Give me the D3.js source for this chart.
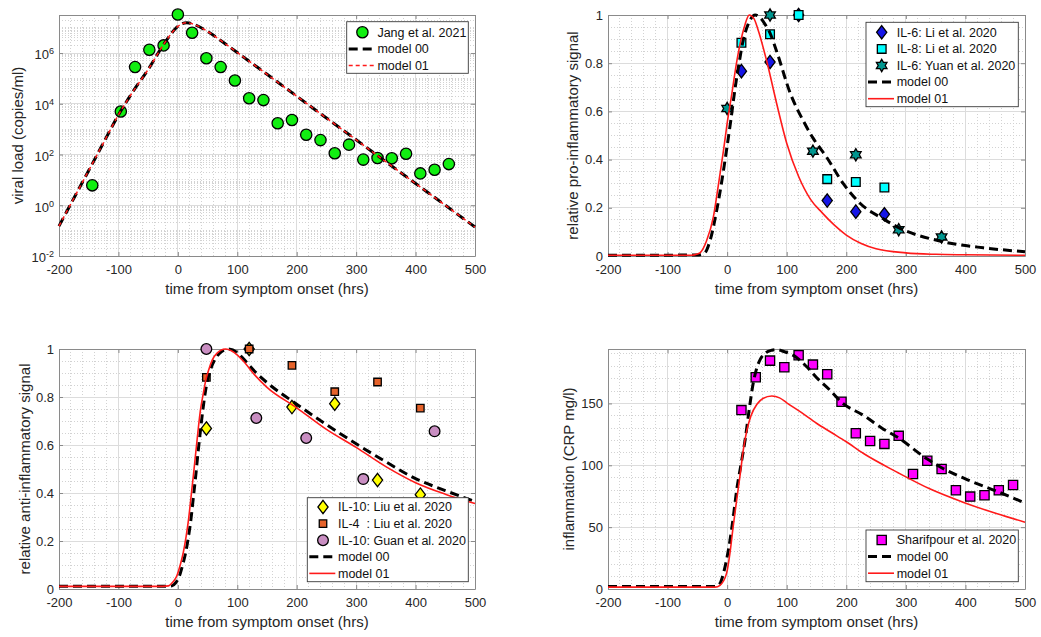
<!DOCTYPE html>
<html>
<head>
<meta charset="utf-8">
<script src="https://cdn.jsdelivr.net/npm/d3@7"></script>
<style>
  body { margin: 0; background: #fff; }
  svg text { font-family: "Liberation Sans", Arial, sans-serif; }
</style>
</head>
<body>
<svg id="fig" width="1041" height="637"></svg>
<script>
// ---------- values ----------

// tick labels
const hourTicks = [-200, -100, 0, 100, 200, 300, 400, 500];
const logTicks = [1e-2, 1, 1e2, 1e4, 1e6];
const fracTicks = [0, 0.2, 0.4, 0.6, 0.8, 1];
const crpTicks = [0, 50, 100, 150];

// A: viral load
const jangHrs = [-144, -96, -72, -48, -24, 0, 24, 48, 72, 96, 120, 144, 168, 192, 216, 240, 264, 288, 312, 336, 360, 384, 408, 432, 456];
const jangLoad = [6.1, 5000, 2.8e5, 1.35e6, 2.0e6, 3.3e7, 6.3e6, 6.2e5, 2.8e5, 8.3e4, 1.65e4, 1.4e4, 1700, 2300, 600, 370, 112, 245, 63, 73, 71, 108, 18, 25, 42];
const viralHrs = [-200, -175, -150, -125, -100, -75, -50, -25, -10, 0, 15, 30, 50, 75, 100, 150, 200, 250, 300, 350, 400, 450, 500];
const viral00 = [0.151, 1.9, 23.4, 295, 3630, 31600, 2.24e5, 2.0e6, 6.3e6, 1.12e7, 1.58e7, 1.26e7, 7.1e6, 2.8e6, 1.05e6, 1.45e5, 2.0e4, 2750, 380, 52, 7.2, 1.0, 0.138];
const viral01 = [0.151, 1.9, 23.4, 295, 3630, 31600, 2.24e5, 2.0e6, 6.3e6, 1.12e7, 1.58e7, 1.26e7, 7.1e6, 2.8e6, 1.05e6, 1.45e5, 2.0e4, 2750, 380, 52, 7.2, 1.0, 0.138];

// B: pro-inflammatory signal
const liHrs = [24, 72, 120, 168, 216, 264];
const il6Li = [0.767, 0.805, 1.0, 0.23, 0.184, 0.173];
const il8Li = [0.885, 0.92, 1.0, 0.319, 0.307, 0.284];
const yuanHrs = [0, 72, 144, 216, 288, 360];
const il6Yuan = [0.612, 1.0, 0.435, 0.42, 0.109, 0.079];
const proHrs00 = [-200, -50, -40, -37, -28, -17.5, -9, -1, 6, 13, 20, 27, 35, 47, 55, 64, 72, 83, 106, 128, 144, 167, 195, 223, 265, 288, 363, 430, 500];
const pro00 = [0.003, 0.004, 0.01, 0.014, 0.07, 0.19, 0.31, 0.44, 0.56, 0.69, 0.8, 0.896, 0.96, 1.0, 0.99, 0.96, 0.925, 0.85, 0.675, 0.56, 0.49, 0.41, 0.30, 0.219, 0.15, 0.118, 0.059, 0.034, 0.018];
const proHrs01 = [-200, -60, -50, -45, -35, -23, -15, -6, 0, 8, 15, 22, 30, 37, 45, 52, 66, 83, 100, 120, 140, 160, 180, 200, 225, 250, 300, 350, 400, 500];
const pro01 = [0.003, 0.003, 0.008, 0.014, 0.06, 0.163, 0.29, 0.44, 0.55, 0.675, 0.79, 0.883, 0.96, 1.0, 0.985, 0.938, 0.813, 0.634, 0.468, 0.33, 0.235, 0.178, 0.128, 0.087, 0.052, 0.03, 0.013, 0.007, 0.005, 0.003];

// C: anti-inflammatory signal
const liuHrs = [48, 120, 192, 264, 336, 408];
const il10Liu = [0.669, 1.0, 0.758, 0.772, 0.454, 0.393];
const il4Liu = [0.882, 1.0, 0.932, 0.822, 0.8625, 0.754];
const guanHrs = [48, 132, 216, 312, 432];
const il10Guan = [1.0, 0.7125, 0.629, 0.458, 0.657];
const antiHrs00 = [-200, -20, -10, -4, 2, 8, 13, 18, 22, 26, 30, 34, 38, 42, 46, 50, 55, 62, 70, 85, 100, 110, 130, 150, 200, 250, 300, 350, 400, 450, 500];
const anti00 = [0.011, 0.011, 0.013, 0.025, 0.05, 0.1, 0.15, 0.22, 0.29, 0.38, 0.47, 0.57, 0.66, 0.745, 0.817, 0.87, 0.914, 0.955, 0.982, 1.0, 0.985, 0.96, 0.905, 0.86, 0.77, 0.685, 0.605, 0.53, 0.46, 0.41, 0.365];
const antiHrs01 = [-200, -25, -16, -8, -2, 4, 9, 14, 18, 22, 26, 30, 34, 38, 43, 47, 52, 58, 66, 80, 95, 110, 130, 150, 200, 250, 300, 350, 400, 450, 500];
const anti01 = [0.011, 0.011, 0.013, 0.03, 0.053, 0.1, 0.15, 0.22, 0.29, 0.38, 0.47, 0.565, 0.66, 0.745, 0.817, 0.87, 0.914, 0.955, 0.983, 1.0, 0.985, 0.95, 0.89, 0.84, 0.755, 0.665, 0.59, 0.51, 0.443, 0.395, 0.356];

// D: inflammation (CRP)
const crpHrs = [24, 48, 72, 96, 120, 144, 168, 192, 216, 240, 264, 288, 312, 336, 360, 384, 408, 432, 456, 480];
const crpSharifpour = [144.6, 171.2, 184.6, 179.2, 188.9, 181.4, 173.6, 151.4, 125.9, 119.7, 117.3, 123.8, 93.0, 103.7, 97.0, 79.8, 74.7, 75.8, 79.8, 84.1];
const crpHrs00 = [-200, -20, -12, -6, 0, 5, 10, 16, 23, 30, 37, 44, 50, 56, 65, 75, 83, 95, 117, 135, 150, 172, 192, 230, 260, 288, 336, 360, 400, 450, 500];
const crp00 = [2.1, 2.1, 4.6, 13, 26, 40, 57, 80, 100, 120, 145, 167, 179, 186, 191, 193, 193.5, 192, 187, 179, 171, 161, 151, 140, 130, 122, 105, 98, 89, 79.5, 69.5];
const crpHrs01 = [-200, -20, -12, -1, 5, 10, 16, 22, 27, 33, 40, 50, 60, 75, 88, 100, 125, 150, 175, 200, 229, 285, 340, 396, 452, 500];
const crp01 = [1.5, 1.5, 3, 12.6, 30, 50, 72, 93, 112, 128, 140, 149.3, 154, 156, 154.5, 150.5, 142.5, 134, 126.5, 119, 109.5, 94.5, 81, 70.2, 61, 54];

// ---------- drawing ----------
const svg = d3.select("#fig");
const ink = "#262626";
const boxCol = "#8a8a8a";

// MATLAB-like marker shapes as d3 symbol types
const tallDiamond = {
  draw(ctx, size) {
    const h = Math.sqrt(size) / 2, w = h * 0.76;
    ctx.moveTo(0, -h); ctx.lineTo(w, 0); ctx.lineTo(0, h); ctx.lineTo(-w, 0); ctx.closePath();
  }
};
const hexagram = {
  draw(ctx, size) {
    const R = Math.sqrt(size) / 2, r = R / Math.sqrt(3);
    for (let i = 0; i < 12; i++) {
      const a = -Math.PI / 2 + i * Math.PI / 6;
      const rad = i % 2 === 0 ? R : r;
      if (i === 0) ctx.moveTo(rad * Math.cos(a), rad * Math.sin(a));
      else ctx.lineTo(rad * Math.cos(a), rad * Math.sin(a));
    }
    ctx.closePath();
  }
};

const dash00 = "9,5";
const lineStyle00 = { stroke: "#000", width: 3, dash: dash00 };

function drawPanel(p) {
  const x = d3.scaleLinear().domain([-200, 500]).range([p.x0, p.x1]);
  const y = (p.log ? d3.scaleLog() : d3.scaleLinear()).domain(p.yDomain).range([p.y1, p.y0]);
  const g = svg.append("g");

  // grid
  const minorX = d3.range(-200, 501, 20).filter(v => !hourTicks.includes(v));
  const grid = g.append("g").attr("shape-rendering", "crispEdges");
  grid.selectAll(".mx").data(minorX).join("line")
    .attr("x1", d => x(d)).attr("x2", d => x(d)).attr("y1", p.y0).attr("y2", p.y1)
    .attr("stroke", "#d2d2d2").attr("stroke-dasharray", "1,2");
  grid.selectAll(".my").data(p.minorY).join("line")
    .attr("y1", d => y(d)).attr("y2", d => y(d)).attr("x1", p.x0).attr("x2", p.x1)
    .attr("stroke", "#d2d2d2").attr("stroke-dasharray", "1,2");
  grid.selectAll(".gx").data(hourTicks).join("line")
    .attr("x1", d => x(d)).attr("x2", d => x(d)).attr("y1", p.y0).attr("y2", p.y1)
    .attr("stroke", "#dcdcdc");
  grid.selectAll(".gy").data(p.yTicks).join("line")
    .attr("y1", d => y(d)).attr("y2", d => y(d)).attr("x1", p.x0).attr("x2", p.x1)
    .attr("stroke", "#dcdcdc");

  // axes (ticks point inward, box on)
  const styleAxis = a => {
    a.select(".domain").attr("stroke", boxCol);
    a.selectAll(".tick line").attr("stroke", boxCol);
    a.selectAll("text").attr("fill", ink).attr("font-size", 13)
      .attr("font-family", '"Liberation Sans", Arial, sans-serif');
  };
  g.append("g").attr("transform", `translate(0,${p.y1})`)
    .call(d3.axisBottom(x).tickValues(hourTicks).tickSize(-4).tickSizeOuter(0).tickPadding(9)
      .tickFormat(d => String(d)))
    .call(styleAxis);
  g.append("g").attr("transform", `translate(0,${p.y0})`)
    .call(d3.axisTop(x).tickValues(hourTicks).tickSize(-4).tickSizeOuter(0).tickFormat(""))
    .call(styleAxis);
  const yAxis = g.append("g").attr("transform", `translate(${p.x0},0)`)
    .call(d3.axisLeft(y).tickValues(p.yTicks).tickSize(-4).tickSizeOuter(0).tickPadding(5)
      .tickFormat(p.log ? () => "" : d => String(+d.toFixed(2))))
    .call(styleAxis);
  g.append("g").attr("transform", `translate(${p.x1},0)`)
    .call(d3.axisRight(y).tickValues(p.yTicks).tickSize(-4).tickSizeOuter(0).tickFormat(""))
    .call(styleAxis);

  if (p.log) {
    yAxis.selectAll(".tick text").each(function (d) {
      const t = d3.select(this).attr("dy", "0.45em");
      t.append("tspan").text("10");
      t.append("tspan").attr("dy", "-0.55em").attr("font-size", 9).text(String(Math.round(Math.log10(d))));
    });
  }

  // axis labels
  g.append("text")
    .attr("x", (p.x0 + p.x1) / 2).attr("y", p.y1 + 37.5)
    .attr("text-anchor", "middle").attr("font-size", 15).attr("fill", ink)
    .text("time from symptom onset (hrs)");
  g.append("text")
    .attr("transform", `translate(${p.yLabelX},${(p.y0 + p.y1) / 2}) rotate(-90)`)
    .attr("text-anchor", "middle").attr("dy", "0.35em").attr("font-size", 15).attr("fill", ink)
    .text(p.yLabel);

  // data markers
  p.markers.forEach(m => {
    g.append("g").selectAll("path").data(d3.zip(m.hrs, m.vals)).join("path")
      .attr("transform", d => `translate(${x(d[0])},${y(d[1])})`)
      .attr("d", d3.symbol().type(m.symbol).size(m.size))
      .attr("fill", m.fill).attr("stroke", "#000").attr("stroke-width", 1.3);
  });

  // model curves
  p.curves.forEach(c => {
    const line = d3.line().x(d => x(d[0])).y(d => y(d[1])).curve(d3.curveMonotoneX);
    g.append("path").datum(d3.zip(c.hrs, c.vals))
      .attr("d", line).attr("fill", "none")
      .attr("stroke", c.style.stroke).attr("stroke-width", c.style.width)
      .attr("stroke-dasharray", c.style.dash || null);
  });

  // legend
  const L = p.legend;
  const lg = g.append("g");
  lg.append("rect").attr("x", L.x).attr("y", L.y).attr("width", L.w).attr("height", L.h)
    .attr("fill", "#fff").attr("stroke", "#3a3a3a").attr("stroke-width", 0.9);
  const items = p.markers.concat(p.curves);
  items.forEach((it, i) => {
    const cy = L.y + L.first + i * 16.6;
    if (it.symbol) {
      lg.append("path").attr("transform", `translate(${L.x + 15.7},${cy})`)
        .attr("d", d3.symbol().type(it.symbol).size(it.size)())
        .attr("fill", it.fill).attr("stroke", "#000").attr("stroke-width", 1.3);
    } else {
      lg.append("line").attr("x1", L.x + 2).attr("x2", L.x + 28).attr("y1", cy).attr("y2", cy)
        .attr("stroke", it.style.stroke).attr("stroke-width", it.style.width)
        .attr("stroke-dasharray", it.style.dash || null);
    }
    lg.append("text").attr("x", L.x + 30.7).attr("y", cy).attr("dy", "0.35em")
      .attr("font-size", 12.5).attr("fill", "#111").style("white-space", "pre")
      .text(it.label);
  });
}

const logMinor = d3.range(-2, 8).flatMap(k => d3.range(1, 10).map(m => m * 10 ** k))
  .filter(v => v <= 10 ** 7.5 && !logTicks.includes(v));
const fracMinor = d3.range(0, 1.001, 0.05).filter(v => !fracTicks.some(t => Math.abs(t - v) < 1e-6));
const crpMinor = d3.range(0, 194, 10).filter(v => !crpTicks.includes(v));

drawPanel({
  x0: 59, x1: 475, y0: 15, y1: 256, log: true, yDomain: [1e-2, 10 ** 7.5],
  yTicks: logTicks, minorY: logMinor, yLabel: "viral load (copies/ml)", yLabelX: 18,
  markers: [
    { label: "Jang et al. 2021", hrs: jangHrs, vals: jangLoad, symbol: d3.symbolCircle, size: 100, fill: "#11ee11" }
  ],
  curves: [
    { label: "model 00", hrs: viralHrs, vals: viral00, style: lineStyle00 },
    { label: "model 01", hrs: viralHrs, vals: viral01, style: { stroke: "#ff1a1a", width: 1.5, dash: "4,3" } }
  ],
  legend: { x: 346.7, y: 21.7, w: 121.6, h: 51.6, first: 10.6 }
});

drawPanel({
  x0: 608, x1: 1025, y0: 15, y1: 256, yDomain: [0, 1],
  yTicks: fracTicks, minorY: fracMinor, yLabel: "relative pro-inflammatory signal", yLabelX: 573,
  markers: [
    { label: "IL-6: Li et al. 2020", hrs: liHrs, vals: il6Li, symbol: tallDiamond, size: 180, fill: "#1515e6" },
    { label: "IL-8: Li et al. 2020", hrs: liHrs, vals: il8Li, symbol: d3.symbolSquare, size: 76, fill: "#00ffff" },
    { label: "IL-6: Yuan et al. 2020", hrs: yuanHrs, vals: il6Yuan, symbol: hexagram, size: 150, fill: "#00968f" }
  ],
  curves: [
    { label: "model 00", hrs: proHrs00, vals: pro00, style: lineStyle00 },
    { label: "model 01", hrs: proHrs01, vals: pro01, style: { stroke: "#ff1a1a", width: 1.6 } }
  ],
  legend: { x: 866, y: 22.3, w: 152.3, h: 84.4, first: 10 }
});

drawPanel({
  x0: 59, x1: 475, y0: 349, y1: 589, yDomain: [0, 1],
  yTicks: fracTicks, minorY: fracMinor, yLabel: "relative anti-inflammatory signal", yLabelX: 25,
  markers: [
    { label: "IL-10: Liu et al. 2020", hrs: liuHrs, vals: il10Liu, symbol: tallDiamond, size: 180, fill: "#ffff00" },
    { label: "IL-4  : Liu et al. 2020", hrs: liuHrs, vals: il4Liu, symbol: d3.symbolSquare, size: 56, fill: "#e5622a" },
    { label: "IL-10: Guan et al. 2020", hrs: guanHrs, vals: il10Guan, symbol: d3.symbolCircle, size: 90, fill: "#c98ec2" }
  ],
  curves: [
    { label: "model 00", hrs: antiHrs00, vals: anti00, style: lineStyle00 },
    { label: "model 01", hrs: antiHrs01, vals: anti01, style: { stroke: "#ff1a1a", width: 1.6 } }
  ],
  legend: { x: 307.3, y: 497.7, w: 161, h: 84, first: 9.3 }
});

drawPanel({
  x0: 608, x1: 1025, y0: 349, y1: 589, yDomain: [0, 194],
  yTicks: crpTicks, minorY: crpMinor, yLabel: "inflammation (CRP mg/l)", yLabelX: 569,
  markers: [
    { label: "Sharifpour et al. 2020", hrs: crpHrs, vals: crpSharifpour, symbol: d3.symbolSquare, size: 85, fill: "#ff00ff" }
  ],
  curves: [
    { label: "model 00", hrs: crpHrs00, vals: crp00, style: lineStyle00 },
    { label: "model 01", hrs: crpHrs01, vals: crp01, style: { stroke: "#ff1a1a", width: 1.6 } }
  ],
  legend: { x: 866, y: 530, w: 152.3, h: 51.7, first: 10 }
});
</script>
</body>
</html>
